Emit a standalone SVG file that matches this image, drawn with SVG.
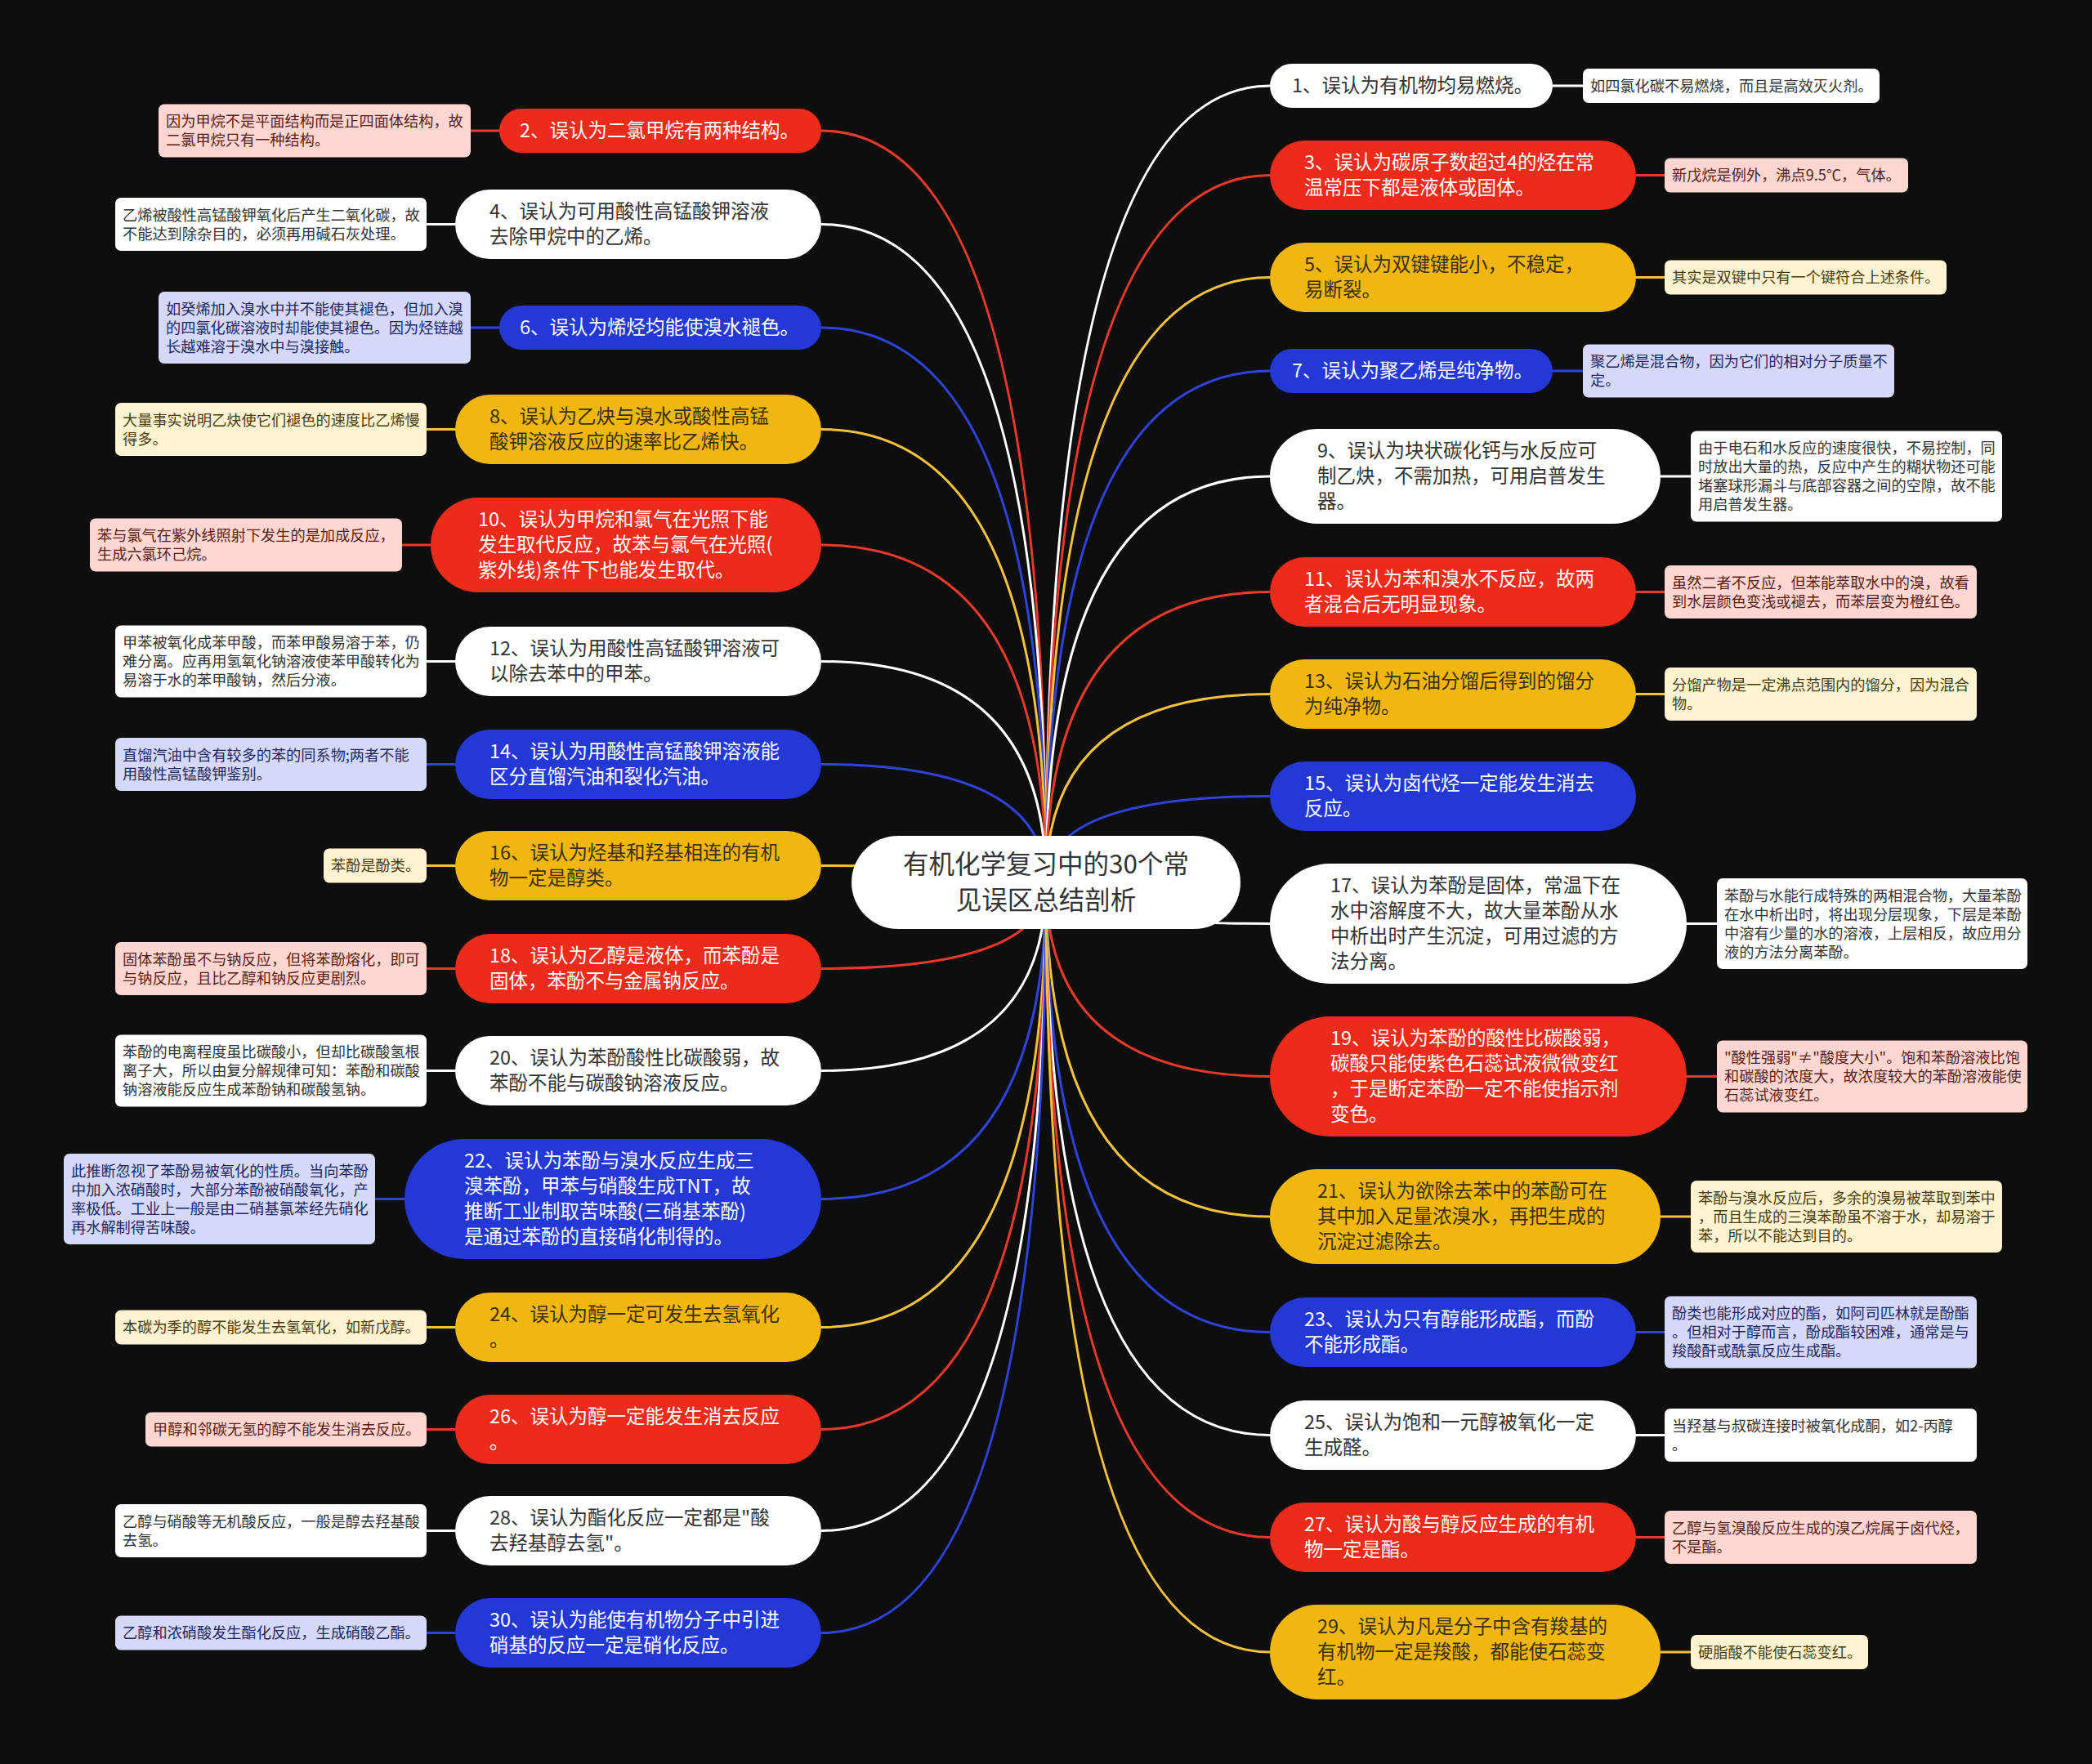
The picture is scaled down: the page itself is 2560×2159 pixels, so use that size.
<svg xmlns="http://www.w3.org/2000/svg" width="2560" height="2159" viewBox="0 0 2560 2159">
<style>
text{font-family:'Noto Sans CJK SC','Noto Sans',sans-serif}
.m{font-size:23.5px}
.n{font-size:18.2px}
.c{font-size:31.5px;fill:#333}
.red{fill:#ec2b1b}.blue{fill:#2438d6}.yel{fill:#f1b70e}.wht{fill:#ffffff}
.tw{fill:#ffffff}.td{fill:#333333}.ty{fill:#3a3010}
.np{fill:#fdd6d2}.nc{fill:#fdf3d1}.nl{fill:#d5d9f7}.nw{fill:#ffffff}
.tp{fill:#5a1d17}.tc{fill:#4a3b0c}.tl{fill:#1e2763}.tww{fill:#333333}
#links path{fill:none;stroke-width:3}
.lr{stroke:#e8392a}.lb{stroke:#2e43da}.ly{stroke:#f3c13c}.lw{stroke:#ffffff}
</style>
<rect x="0" y="0" width="2560" height="2159" fill="#0e0e0e"/>
<g id="links">
<path class="lr" d="M1280 1080 Q1280 160 1005 160 M1005 160 H576"/>
<path class="lw" d="M1280 1080 Q1280 274.5 1005 274.5 M557 274.5 H522"/>
<path class="lb" d="M1280 1080 Q1280 401 1005 401 M611 401 H576"/>
<path class="ly" d="M1280 1080 Q1280 525.5 1005 525.5 M557 525.5 H522"/>
<path class="lr" d="M1280 1080 Q1280 667 1005 667 M527 667 H492"/>
<path class="lw" d="M1280 1080 Q1280 809.5 1005 809.5 M557 809.5 H522"/>
<path class="lb" d="M1280 1080 Q1280 935.5 1005 935.5 M557 935.5 H522"/>
<path class="ly" d="M1280 1080 Q1280 1059.5 1005 1059.5 M557 1059.5 H522"/>
<path class="lr" d="M1280 1080 Q1280 1185.5 1005 1185.5 M557 1185.5 H522"/>
<path class="lw" d="M1280 1080 Q1280 1310.5 1005 1310.5 M557 1310.5 H522"/>
<path class="lb" d="M1280 1080 Q1280 1467.5 1005 1467.5 M495 1467.5 H459"/>
<path class="ly" d="M1280 1080 Q1280 1624.5 1005 1624.5 M557 1624.5 H522"/>
<path class="lr" d="M1280 1080 Q1280 1749.5 1005 1749.5 M557 1749.5 H522"/>
<path class="lw" d="M1280 1080 Q1280 1873.5 1005 1873.5 M557 1873.5 H522"/>
<path class="lb" d="M1280 1080 Q1280 1998.5 1005 1998.5 M557 1998.5 H522"/>
<path class="lw" d="M1280 1080 Q1280 105 1554 105 M1900 105 H1937"/>
<path class="lr" d="M1280 1080 Q1280 214.5 1554 214.5 M2002 214.5 H2037"/>
<path class="ly" d="M1280 1080 Q1280 339.5 1554 339.5 M2002 339.5 H2037"/>
<path class="lb" d="M1280 1080 Q1280 454 1554 454 M1900 454 H1937"/>
<path class="lw" d="M1280 1080 Q1280 583 1554 583 M2032 583 H2069"/>
<path class="lr" d="M1280 1080 Q1280 724.5 1554 724.5 M2002 724.5 H2037"/>
<path class="ly" d="M1280 1080 Q1280 849.5 1554 849.5 M2002 849.5 H2037"/>
<path class="lb" d="M1280 1080 Q1280 974.5 1554 974.5"/>
<path class="lw" d="M1280 1080 Q1280 1130.5 1554 1130.5 M2064 1130.5 H2101"/>
<path class="lr" d="M1280 1080 Q1280 1317.5 1554 1317.5 M2064 1317.5 H2101"/>
<path class="ly" d="M1280 1080 Q1280 1489 1554 1489 M2032 1489 H2069"/>
<path class="lb" d="M1280 1080 Q1280 1630.5 1554 1630.5 M2002 1630.5 H2037"/>
<path class="lw" d="M1280 1080 Q1280 1756.5 1554 1756.5 M2002 1756.5 H2037"/>
<path class="lr" d="M1280 1080 Q1280 1881.5 1554 1881.5 M2002 1881.5 H2037"/>
<path class="ly" d="M1280 1080 Q1280 2022 1554 2022 M2032 2022 H2069"/>
</g>
<g id="center">
<rect x="1042" y="1023" width="476" height="114" rx="57" class="wht"/>
<text class="c" x="1280" y="1069" text-anchor="middle">有机化学复习中的30个常</text>
<text class="c" x="1280" y="1113" text-anchor="middle">见误区总结剖析</text>
</g>
<g id="node-2"><rect x="611" y="133" width="394" height="54" rx="27" class="red"/><text class="m tw" x="636" y="168">2、误认为二氯甲烷有两种结构。</text></g>
<g id="note-2"><rect x="194" y="127.5" width="382" height="65" rx="7" class="np"/><text class="n tp" x="203"><tspan x="203" y="155">因为甲烷不是平面结构而是正四面体结构，故</tspan><tspan x="203" y="178">二氯甲烷只有一种结构。</tspan></text></g>
<g id="node-4"><rect x="557" y="232" width="448" height="85" rx="42.5" class="wht"/><text class="m td"><tspan x="599" y="267">4、误认为可用酸性高锰酸钾溶液</tspan><tspan x="599" y="298">去除甲烷中的乙烯。</tspan></text></g>
<g id="note-4"><rect x="141" y="242" width="381" height="65" rx="7" class="nw"/><text class="n tww"><tspan x="150" y="269.5">乙烯被酸性高锰酸钾氧化后产生二氧化碳，故</tspan><tspan x="150" y="292.5">不能达到除杂目的，必须再用碱石灰处理。</tspan></text></g>
<g id="node-6"><rect x="611" y="374" width="394" height="54" rx="27" class="blue"/><text class="m tw" x="636" y="409">6、误认为烯烃均能使溴水褪色。</text></g>
<g id="note-6"><rect x="194" y="357" width="382" height="88" rx="7" class="nl"/><text class="n tl"><tspan x="203" y="384.5">如癸烯加入溴水中并不能使其褪色，但加入溴</tspan><tspan x="203" y="407.5">的四氯化碳溶液时却能使其褪色。因为烃链越</tspan><tspan x="203" y="430.5">长越难溶于溴水中与溴接触。</tspan></text></g>
<g id="node-8"><rect x="557" y="483" width="448" height="85" rx="42.5" class="yel"/><text class="m ty"><tspan x="599" y="518">8、误认为乙炔与溴水或酸性高锰</tspan><tspan x="599" y="549">酸钾溶液反应的速率比乙烯快。</tspan></text></g>
<g id="note-8"><rect x="141" y="493" width="381" height="65" rx="7" class="nc"/><text class="n tc"><tspan x="150" y="520.5">大量事实说明乙炔使它们褪色的速度比乙烯慢</tspan><tspan x="150" y="543.5">得多。</tspan></text></g>
<g id="node-10"><rect x="527" y="609" width="478" height="116" rx="58" class="red"/><text class="m tw"><tspan x="585" y="644">10、误认为甲烷和氯气在光照下能</tspan><tspan x="585" y="675">发生取代反应，故苯与氯气在光照(</tspan><tspan x="585" y="706">紫外线)条件下也能发生取代。</tspan></text></g>
<g id="note-10"><rect x="110" y="634.5" width="382" height="65" rx="7" class="np"/><text class="n tp"><tspan x="119" y="662">苯与氯气在紫外线照射下发生的是加成反应，</tspan><tspan x="119" y="685">生成六氯环己烷。</tspan></text></g>
<g id="node-12"><rect x="557" y="767" width="448" height="85" rx="42.5" class="wht"/><text class="m td"><tspan x="599" y="802">12、误认为用酸性高锰酸钾溶液可</tspan><tspan x="599" y="833">以除去苯中的甲苯。</tspan></text></g>
<g id="note-12"><rect x="141" y="765.5" width="381" height="88" rx="7" class="nw"/><text class="n tww"><tspan x="150" y="793">甲苯被氧化成苯甲酸，而苯甲酸易溶于苯，仍</tspan><tspan x="150" y="816">难分离。应再用氢氧化钠溶液使苯甲酸转化为</tspan><tspan x="150" y="839">易溶于水的苯甲酸钠，然后分液。</tspan></text></g>
<g id="node-14"><rect x="557" y="893" width="448" height="85" rx="42.5" class="blue"/><text class="m tw"><tspan x="599" y="928">14、误认为用酸性高锰酸钾溶液能</tspan><tspan x="599" y="959">区分直馏汽油和裂化汽油。</tspan></text></g>
<g id="note-14"><rect x="141" y="903" width="381" height="65" rx="7" class="nl"/><text class="n tl"><tspan x="150" y="930.5">直馏汽油中含有较多的苯的同系物;两者不能</tspan><tspan x="150" y="953.5">用酸性高锰酸钾鉴别。</tspan></text></g>
<g id="node-16"><rect x="557" y="1017" width="448" height="85" rx="42.5" class="yel"/><text class="m ty"><tspan x="599" y="1052">16、误认为烃基和羟基相连的有机</tspan><tspan x="599" y="1083">物一定是醇类。</tspan></text></g>
<g id="note-16"><rect x="396" y="1038.5" width="126" height="42" rx="7" class="nc"/><text class="n tc" x="405" y="1066">苯酚是酚类。</text></g>
<g id="node-18"><rect x="557" y="1143" width="448" height="85" rx="42.5" class="red"/><text class="m tw"><tspan x="599" y="1178">18、误认为乙醇是液体，而苯酚是</tspan><tspan x="599" y="1209">固体，苯酚不与金属钠反应。</tspan></text></g>
<g id="note-18"><rect x="141" y="1153" width="381" height="65" rx="7" class="np"/><text class="n tp"><tspan x="150" y="1180.5">固体苯酚虽不与钠反应，但将苯酚熔化，即可</tspan><tspan x="150" y="1203.5">与钠反应，且比乙醇和钠反应更剧烈。</tspan></text></g>
<g id="node-20"><rect x="557" y="1268" width="448" height="85" rx="42.5" class="wht"/><text class="m td"><tspan x="599" y="1303">20、误认为苯酚酸性比碳酸弱，故</tspan><tspan x="599" y="1334">苯酚不能与碳酸钠溶液反应。</tspan></text></g>
<g id="note-20"><rect x="141" y="1266.5" width="381" height="88" rx="7" class="nw"/><text class="n tww"><tspan x="150" y="1294">苯酚的电离程度虽比碳酸小，但却比碳酸氢根</tspan><tspan x="150" y="1317">离子大，所以由复分解规律可知：苯酚和碳酸</tspan><tspan x="150" y="1340">钠溶液能反应生成苯酚钠和碳酸氢钠。</tspan></text></g>
<g id="node-22"><rect x="495" y="1394" width="510" height="147" rx="73.5" class="blue"/><text class="m tw"><tspan x="568" y="1429">22、误认为苯酚与溴水反应生成三</tspan><tspan x="568" y="1460">溴苯酚，甲苯与硝酸生成TNT，故</tspan><tspan x="568" y="1491">推断工业制取苦味酸(三硝基苯酚)</tspan><tspan x="568" y="1522">是通过苯酚的直接硝化制得的。</tspan></text></g>
<g id="note-22"><rect x="78" y="1412" width="381" height="111" rx="7" class="nl"/><text class="n tl"><tspan x="87" y="1439.5">此推断忽视了苯酚易被氧化的性质。当向苯酚</tspan><tspan x="87" y="1462.5">中加入浓硝酸时，大部分苯酚被硝酸氧化，产</tspan><tspan x="87" y="1485.5">率极低。工业上一般是由二硝基氯苯经先硝化</tspan><tspan x="87" y="1508.5">再水解制得苦味酸。</tspan></text></g>
<g id="node-24"><rect x="557" y="1582" width="448" height="85" rx="42.5" class="yel"/><text class="m ty"><tspan x="599" y="1617">24、误认为醇一定可发生去氢氧化</tspan><tspan x="599" y="1648">。</tspan></text></g>
<g id="note-24"><rect x="141" y="1603.5" width="381" height="42" rx="7" class="nc"/><text class="n tc" x="150" y="1631">本碳为季的醇不能发生去氢氧化，如新戊醇。</text></g>
<g id="node-26"><rect x="557" y="1707" width="448" height="85" rx="42.5" class="red"/><text class="m tw"><tspan x="599" y="1742">26、误认为醇一定能发生消去反应</tspan><tspan x="599" y="1773">。</tspan></text></g>
<g id="note-26"><rect x="178" y="1728.5" width="344" height="42" rx="7" class="np"/><text class="n tp" x="187" y="1756">甲醇和邻碳无氢的醇不能发生消去反应。</text></g>
<g id="node-28"><rect x="557" y="1831" width="448" height="85" rx="42.5" class="wht"/><text class="m td"><tspan x="599" y="1866">28、误认为酯化反应一定都是"酸</tspan><tspan x="599" y="1897">去羟基醇去氢"。</tspan></text></g>
<g id="note-28"><rect x="141" y="1841" width="381" height="65" rx="7" class="nw"/><text class="n tww"><tspan x="150" y="1868.5">乙醇与硝酸等无机酸反应，一般是醇去羟基酸</tspan><tspan x="150" y="1891.5">去氢。</tspan></text></g>
<g id="node-30"><rect x="557" y="1956" width="448" height="85" rx="42.5" class="blue"/><text class="m tw"><tspan x="599" y="1991">30、误认为能使有机物分子中引进</tspan><tspan x="599" y="2022">硝基的反应一定是硝化反应。</tspan></text></g>
<g id="note-30"><rect x="141" y="1977.5" width="381" height="42" rx="7" class="nl"/><text class="n tl" x="150" y="2005">乙醇和浓硝酸发生酯化反应，生成硝酸乙酯。</text></g>
<g id="node-1"><rect x="1554" y="78" width="346" height="54" rx="27" class="wht"/><text class="m td" x="1581" y="113">1、误认为有机物均易燃烧。</text></g>
<g id="note-1"><rect x="1937" y="84" width="363" height="42" rx="7" class="nw"/><text class="n tww" x="1946" y="111.5">如四氯化碳不易燃烧，而且是高效灭火剂。</text></g>
<g id="node-3"><rect x="1554" y="172" width="448" height="85" rx="42.5" class="red"/><text class="m tw"><tspan x="1596" y="207">3、误认为碳原子数超过4的烃在常</tspan><tspan x="1596" y="238">温常压下都是液体或固体。</tspan></text></g>
<g id="note-3"><rect x="2037" y="193.5" width="298" height="42" rx="7" class="np"/><text class="n tp" x="2046" y="221">新戊烷是例外，沸点9.5℃，气体。</text></g>
<g id="node-5"><rect x="1554" y="297" width="448" height="85" rx="42.5" class="yel"/><text class="m ty"><tspan x="1596" y="332">5、误认为双键键能小，不稳定，</tspan><tspan x="1596" y="363">易断裂。</tspan></text></g>
<g id="note-5"><rect x="2037" y="318.5" width="345" height="42" rx="7" class="nc"/><text class="n tc" x="2046" y="346">其实是双键中只有一个键符合上述条件。</text></g>
<g id="node-7"><rect x="1554" y="427" width="346" height="54" rx="27" class="blue"/><text class="m tw" x="1581" y="462">7、误认为聚乙烯是纯净物。</text></g>
<g id="note-7"><rect x="1937" y="421.5" width="381" height="65" rx="7" class="nl"/><text class="n tl"><tspan x="1946" y="449">聚乙烯是混合物，因为它们的相对分子质量不</tspan><tspan x="1946" y="472">定。</tspan></text></g>
<g id="node-9"><rect x="1554" y="525" width="478" height="116" rx="58" class="wht"/><text class="m td"><tspan x="1612" y="560">9、误认为块状碳化钙与水反应可</tspan><tspan x="1612" y="591">制乙炔，不需加热，可用启普发生</tspan><tspan x="1612" y="622">器。</tspan></text></g>
<g id="note-9"><rect x="2069" y="527.5" width="381" height="111" rx="7" class="nw"/><text class="n tww"><tspan x="2078" y="555">由于电石和水反应的速度很快，不易控制，同</tspan><tspan x="2078" y="578">时放出大量的热，反应中产生的糊状物还可能</tspan><tspan x="2078" y="601">堵塞球形漏斗与底部容器之间的空隙，故不能</tspan><tspan x="2078" y="624">用启普发生器。</tspan></text></g>
<g id="node-11"><rect x="1554" y="682" width="448" height="85" rx="42.5" class="red"/><text class="m tw"><tspan x="1596" y="717">11、误认为苯和溴水不反应，故两</tspan><tspan x="1596" y="748">者混合后无明显现象。</tspan></text></g>
<g id="note-11"><rect x="2037" y="692" width="382" height="65" rx="7" class="np"/><text class="n tp"><tspan x="2046" y="719.5">虽然二者不反应，但苯能萃取水中的溴，故看</tspan><tspan x="2046" y="742.5">到水层颜色变浅或褪去，而苯层变为橙红色。</tspan></text></g>
<g id="node-13"><rect x="1554" y="807" width="448" height="85" rx="42.5" class="yel"/><text class="m ty"><tspan x="1596" y="842">13、误认为石油分馏后得到的馏分</tspan><tspan x="1596" y="873">为纯净物。</tspan></text></g>
<g id="note-13"><rect x="2037" y="817" width="382" height="65" rx="7" class="nc"/><text class="n tc"><tspan x="2046" y="844.5">分馏产物是一定沸点范围内的馏分，因为混合</tspan><tspan x="2046" y="867.5">物。</tspan></text></g>
<g id="node-15"><rect x="1554" y="932" width="448" height="85" rx="42.5" class="blue"/><text class="m tw"><tspan x="1596" y="967">15、误认为卤代烃一定能发生消去</tspan><tspan x="1596" y="998">反应。</tspan></text></g>
<g id="node-17"><rect x="1554" y="1057" width="510" height="147" rx="73.5" class="wht"/><text class="m td"><tspan x="1628" y="1092">17、误认为苯酚是固体，常温下在</tspan><tspan x="1628" y="1123">水中溶解度不大，故大量苯酚从水</tspan><tspan x="1628" y="1154">中析出时产生沉淀，可用过滤的方</tspan><tspan x="1628" y="1185">法分离。</tspan></text></g>
<g id="note-17"><rect x="2101" y="1075" width="380" height="111" rx="7" class="nw"/><text class="n tww"><tspan x="2110" y="1102.5">苯酚与水能行成特殊的两相混合物，大量苯酚</tspan><tspan x="2110" y="1125.5">在水中析出时，将出现分层现象，下层是苯酚</tspan><tspan x="2110" y="1148.5">中溶有少量的水的溶液，上层相反，故应用分</tspan><tspan x="2110" y="1171.5">液的方法分离苯酚。</tspan></text></g>
<g id="node-19"><rect x="1554" y="1244" width="510" height="147" rx="73.5" class="red"/><text class="m tw"><tspan x="1628" y="1279">19、误认为苯酚的酸性比碳酸弱，</tspan><tspan x="1628" y="1310">碳酸只能使紫色石蕊试液微微变红</tspan><tspan x="1628" y="1341">，于是断定苯酚一定不能使指示剂</tspan><tspan x="1628" y="1372">变色。</tspan></text></g>
<g id="note-19"><rect x="2101" y="1273.5" width="380" height="88" rx="7" class="np"/><text class="n tp"><tspan x="2110" y="1301">"酸性强弱"≠"酸度大小"。饱和苯酚溶液比饱</tspan><tspan x="2110" y="1324">和碳酸的浓度大，故浓度较大的苯酚溶液能使</tspan><tspan x="2110" y="1347">石蕊试液变红。</tspan></text></g>
<g id="node-21"><rect x="1554" y="1431" width="478" height="116" rx="58" class="yel"/><text class="m ty"><tspan x="1612" y="1466">21、误认为欲除去苯中的苯酚可在</tspan><tspan x="1612" y="1497">其中加入足量浓溴水，再把生成的</tspan><tspan x="1612" y="1528">沉淀过滤除去。</tspan></text></g>
<g id="note-21"><rect x="2069" y="1445" width="381" height="88" rx="7" class="nc"/><text class="n tc"><tspan x="2078" y="1472.5">苯酚与溴水反应后，多余的溴易被萃取到苯中</tspan><tspan x="2078" y="1495.5">，而且生成的三溴苯酚虽不溶于水，却易溶于</tspan><tspan x="2078" y="1518.5">苯，所以不能达到目的。</tspan></text></g>
<g id="node-23"><rect x="1554" y="1588" width="448" height="85" rx="42.5" class="blue"/><text class="m tw"><tspan x="1596" y="1623">23、误认为只有醇能形成酯，而酚</tspan><tspan x="1596" y="1654">不能形成酯。</tspan></text></g>
<g id="note-23"><rect x="2037" y="1586.5" width="382" height="88" rx="7" class="nl"/><text class="n tl"><tspan x="2046" y="1614">酚类也能形成对应的酯，如阿司匹林就是酚酯</tspan><tspan x="2046" y="1637">。但相对于醇而言，酚成酯较困难，通常是与</tspan><tspan x="2046" y="1660">羧酸酐或酰氯反应生成酯。</tspan></text></g>
<g id="node-25"><rect x="1554" y="1714" width="448" height="85" rx="42.5" class="wht"/><text class="m td"><tspan x="1596" y="1749">25、误认为饱和一元醇被氧化一定</tspan><tspan x="1596" y="1780">生成醛。</tspan></text></g>
<g id="note-25"><rect x="2037" y="1724" width="382" height="65" rx="7" class="nw"/><text class="n tww"><tspan x="2046" y="1751.5">当羟基与叔碳连接时被氧化成酮，如2-丙醇</tspan><tspan x="2046" y="1774.5">。</tspan></text></g>
<g id="node-27"><rect x="1554" y="1839" width="448" height="85" rx="42.5" class="red"/><text class="m tw"><tspan x="1596" y="1874">27、误认为酸与醇反应生成的有机</tspan><tspan x="1596" y="1905">物一定是酯。</tspan></text></g>
<g id="note-27"><rect x="2037" y="1849" width="382" height="65" rx="7" class="np"/><text class="n tp"><tspan x="2046" y="1876.5">乙醇与氢溴酸反应生成的溴乙烷属于卤代烃，</tspan><tspan x="2046" y="1899.5">不是酯。</tspan></text></g>
<g id="node-29"><rect x="1554" y="1964" width="478" height="116" rx="58" class="yel"/><text class="m ty"><tspan x="1612" y="1999">29、误认为凡是分子中含有羧基的</tspan><tspan x="1612" y="2030">有机物一定是羧酸，都能使石蕊变</tspan><tspan x="1612" y="2061">红。</tspan></text></g>
<g id="note-29"><rect x="2069" y="2001" width="217" height="42" rx="7" class="nc"/><text class="n tc" x="2078" y="2028.5">硬脂酸不能使石蕊变红。</text></g>
</svg>
